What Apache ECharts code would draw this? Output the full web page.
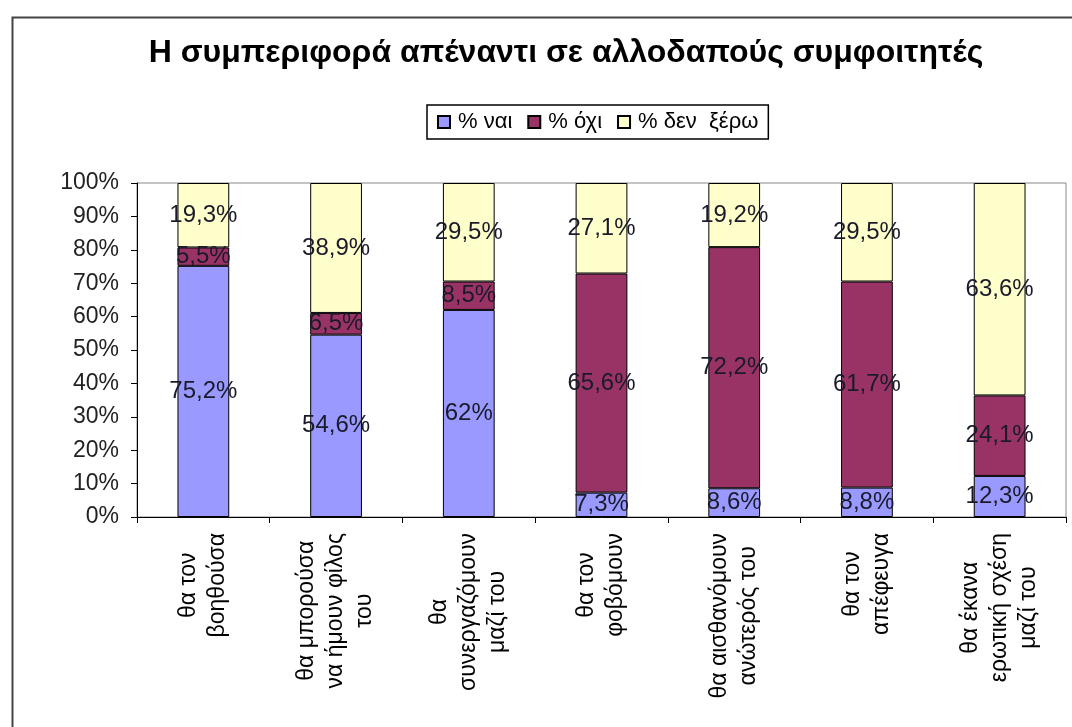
<!DOCTYPE html>
<html>
<head>
<meta charset="utf-8">
<script src="https://cdn.jsdelivr.net/npm/echarts@6/dist/echarts.min.js"></script>
<style>
html,body{margin:0;padding:0;background:#fff;}
#chart{width:1072px;height:727px;}
</style>
</head>
<body>
<div id="chart"></div>
<script>
const categories = [
  ['θα τον', 'βοηθούσα'],
  ['θα μπορούσα', 'να ήμουν φίλος', 'του'],
  ['θα', 'συνεργαζόμουν', 'μαζί του'],
  ['θα τον', 'φοβόμουν'],
  ['θα αισθανόμουν', 'ανώτερός του'],
  ['θα τον', 'απέφευγα'],
  ['θα έκανα', 'ερωτική σχέση', 'μαζί του']
];
const seriesNames = ['% ναι', '% όχι', '% δεν  ξέρω'];
const yesValues = [75.2, 54.6, 62, 7.3, 8.6, 8.8, 12.3];
const noValues = [5.5, 6.5, 8.5, 65.6, 72.2, 61.7, 24.1];
const dontKnowValues = [19.3, 38.9, 29.5, 27.1, 19.2, 29.5, 63.6];
const colors = ['#9999FF', '#993366', '#FFFFCC'];

const FONT = '"Liberation Sans", Arial, sans-serif';
const chart = echarts.init(document.getElementById('chart'));

function makeSeries(name, data, color) {
  return {
    name: name,
    type: 'bar',
    stack: 'total',
    data: data,
    barWidth: '39%',
    itemStyle: { color: color, borderColor: '#000', borderWidth: 1 },
    label: {
      show: true,
      position: 'inside',
      color: '#1a1a2a',
      fontFamily: FONT,
      fontSize: 24,
      formatter: p => String(p.value).replace('.', ',') + '%'
    }
  };
}

chart.setOption({
  animation: false,
  backgroundColor: '#fff',
  graphic: [{
    type: 'rect',
    left: 10, top: 15,
    shape: { width: 1100, height: 800 },
    style: { fill: 'none', stroke: '#444', lineWidth: 2 },
    silent: true
  }],
  title: {
    text: 'Η συμπεριφορά απέναντι σε αλλοδαπούς συμφοιτητές',
    left: 561, top: 32, textAlign: 'center',
    textStyle: { fontFamily: FONT, fontSize: 32, fontWeight: 'bold', color: '#000' }
  },
  legend: {
    data: seriesNames,
    left: 427, top: 105,
    icon: 'rect',
    itemWidth: 12, itemHeight: 12,
    itemGap: 15,
    padding: [6, 10, 6, 10],
    borderColor: '#000', borderWidth: 1.5,
    textStyle: { fontFamily: FONT, fontSize: 22, color: '#000', padding: [0, 0, 0, 3] }
  },
  grid: {
    left: 137, top: 183, right: 6, bottom: 210,
    show: true, borderColor: '#888', borderWidth: 1,
    containLabel: false
  },
  xAxis: {
    type: 'category',
    data: categories.map(c => c.join('\n')),
    axisLine: { lineStyle: { color: '#000', width: 1 } },
    axisTick: { show: true, length: 6, lineStyle: { color: '#000' } },
    axisLabel: {
      interval: 0,
      rotate: 90,
      margin: 16,
      color: '#000',
      fontFamily: FONT,
      fontSize: 23,
      lineHeight: 29,
      formatter: v => v.split('\n').map(s => '{c|' + s + '}').join('\n'),
      rich: { c: { align: 'center', fontFamily: FONT, fontSize: 23, lineHeight: 29, color: '#000' } }
    }
  },
  yAxis: {
    type: 'value',
    min: 0, max: 100, interval: 10,
    axisLine: { show: true, lineStyle: { color: '#000', width: 1 } },
    axisTick: { show: true, length: 6, lineStyle: { color: '#000' } },
    splitLine: { show: false },
    axisLabel: {
      formatter: '{value}%',
      margin: 18,
      color: '#222',
      fontFamily: FONT,
      fontSize: 23
    }
  },
  series: [
    makeSeries(seriesNames[0], yesValues, colors[0]),
    makeSeries(seriesNames[1], noValues, colors[1]),
    makeSeries(seriesNames[2], dontKnowValues, colors[2])
  ]
});
</script>
</body>
</html>
